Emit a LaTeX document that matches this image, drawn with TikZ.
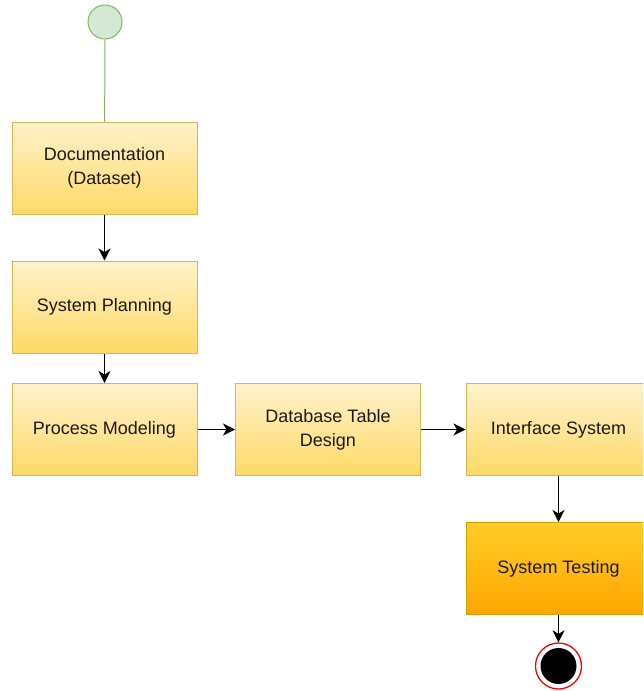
\documentclass[tikz,border=0pt]{standalone}
\usepackage{fontspec}
\setmainfont{Liberation Sans}
\usetikzlibrary{arrows.meta,shadings}
\definecolor{boxtop}{HTML}{FFF2CC}
\definecolor{boxbot}{HTML}{FFD966}
\definecolor{boxline}{HTML}{D6B656}
\definecolor{testtop}{HTML}{FFCD28}
\definecolor{testbot}{HTML}{FFA500}
\definecolor{testline}{HTML}{D79B00}
\definecolor{startfill}{HTML}{D5E8D4}
\definecolor{startline}{HTML}{82B366}
\definecolor{txt}{HTML}{1A1A1A}
\begin{document}
\begin{tikzpicture}[x=1pt,y=-1pt,
  actbox/.style={draw=boxline, line width=1pt, top color=boxtop, bottom color=boxbot,
    minimum width=185pt, minimum height=92pt, align=center, font=\fontsize{18}{24}\selectfont, text=txt, inner sep=0pt},
  testbox/.style={actbox, draw=testline, top color=testtop, bottom color=testbot},
  flow/.style={-{Stealth[length=12pt,width=12pt,inset=3.5pt]}, line width=1.4pt, black}
]
\useasboundingbox (0,0) rectangle (643,691);
\clip (0,0) rectangle (643,691);
\node[circle, draw=startline, fill=startfill, line width=1pt, minimum size=34pt, inner sep=0pt] (start) at (105,22) {};
\node[actbox] (doc) at (104.5,168) {Documentation\\(Dataset)};
\node[actbox] (plan) at (104.5,307) {System Planning};
\node[actbox] (proc) at (104.5,429.5) {Process Modeling};
\node[actbox] (db) at (328,429.5) {Database Table\\Design};
\node[actbox] (ui) at (558.5,429.5) {Interface System};
\node[testbox] (test) at (558.5,568.5) {System Testing};
\node[circle, draw=red, fill=white, line width=1.3pt, minimum size=46pt, inner sep=0pt] (end) at (558.5,666) {};
\node[circle, fill=black, minimum size=36pt, inner sep=0pt] (endin) at (end) {};
\draw[startline, line width=1pt] (start) -- (doc);
\draw[flow] (doc) -- (plan);
\draw[flow] (plan) -- (proc);
\draw[flow] (proc) -- (db);
\draw[flow] (db) -- (ui);
\draw[flow] (ui) -- (test);
\draw[flow] (test) -- (end);
\end{tikzpicture}
\end{document}
